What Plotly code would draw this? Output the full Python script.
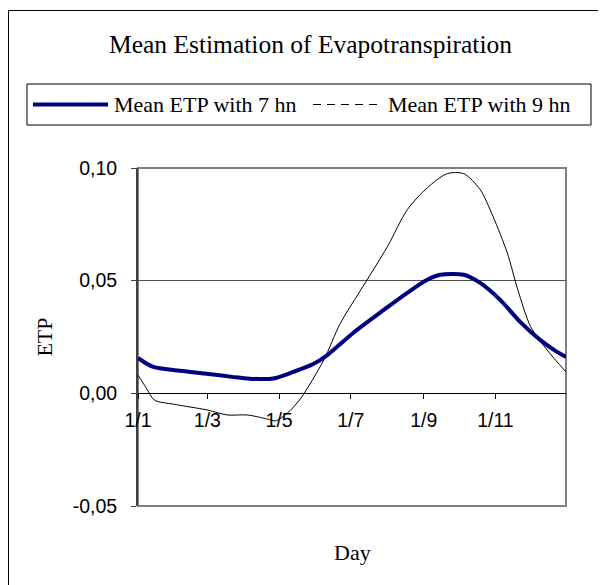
import plotly.graph_objects as go

# ---- data ----
dates_7hn = ["2023-01-01", "2023-01-14", "2023-02-08", "2023-03-02", "2023-03-22",
             "2023-04-06", "2023-04-26", "2023-05-13", "2023-05-30", "2023-06-11",
             "2023-07-03", "2023-07-29", "2023-08-18", "2023-09-04", "2023-09-15",
             "2023-10-05", "2023-10-19", "2023-11-05", "2023-11-22", "2023-12-09",
             "2023-12-21", "2023-12-31"]
etp_7hn = [0.0157, 0.0117, 0.0099, 0.0086, 0.0073,
           0.0065, 0.0066, 0.0095, 0.0130, 0.0170,
           0.0268, 0.0370, 0.0446, 0.0504, 0.0526,
           0.0526, 0.0490, 0.0415, 0.0317, 0.0237,
           0.0192, 0.0161]

dates_9hn = ["2023-01-01", "2023-01-08", "2023-01-15", "2023-01-31", "2023-03-01",
             "2023-03-18", "2023-04-04", "2023-04-21", "2023-04-28", "2023-05-08",
             "2023-05-19", "2023-06-08", "2023-06-22", "2023-07-09", "2023-08-01",
             "2023-08-18", "2023-09-04", "2023-09-21", "2023-10-05", "2023-10-19",
             "2023-10-30", "2023-11-11", "2023-11-20", "2023-12-01", "2023-12-15",
             "2023-12-31"]
etp_9hn = [0.0081, 0.0024, -0.0030, -0.0048, -0.0074,
           -0.0096, -0.0096, -0.0114, -0.0122, -0.0088,
           -0.0025, 0.0148, 0.0310, 0.0455, 0.0650,
           0.0815, 0.0912, 0.0975, 0.0975, 0.0904,
           0.0784, 0.0624, 0.0460, 0.0295, 0.0192,
           0.0095]

x_tick_vals = ["2023-01-01", "2023-03-01", "2023-05-01", "2023-07-01", "2023-09-01", "2023-11-01"]
x_tick_text = ["1/1", "1/3", "1/5", "1/7", "1/9", "1/11"]
y_tick_vals = [-0.05, 0.0, 0.05, 0.10]
y_tick_text = ["-0,05", "0,00", "0,05", "0,10"]

name_7 = "Mean ETP with 7 hn"
name_9 = "Mean ETP with 9 hn"
title_text = "Mean Estimation of Evapotranspiration"

# ---- layout geometry (page pixels; the page body adds an 8px offset) ----
OFF = 8
W, H = 606 - OFF, 585 - OFF
L, R, T, B = 138 - OFF, 566 - OFF, 168 - OFF, 506 - OFF


def px_x(p):
    return (p - OFF - L) / (R - L)


def px_y(p):
    return (B - (p - OFF)) / (B - T)


SERIF = "Liberation Serif"
SANS = "Liberation Sans"

fig = go.Figure()
fig.add_trace(go.Scatter(x=dates_9hn, y=etp_9hn, mode="lines", name=name_9,
                         line=dict(color="black", width=1, shape="spline", smoothing=0.8),
                         showlegend=False))
fig.add_trace(go.Scatter(x=dates_7hn, y=etp_7hn, mode="lines", name=name_7,
                         line=dict(color="#000080", width=4, shape="spline", smoothing=0.8),
                         showlegend=False))

shapes = [
    # plot-area border
    dict(type="rect", xref="paper", yref="paper", x0=0, x1=1, y0=0, y1=1,
         line=dict(color="#808080", width=2), layer="below"),
    # chart-area border (extends past the right/bottom edges)
    dict(type="rect", xref="paper", yref="paper", x0=px_x(8.5), x1=px_x(700),
         y0=px_y(700), y1=px_y(10.5), line=dict(color="black", width=1), layer="below"),
    # legend box
    dict(type="rect", xref="paper", yref="paper", x0=px_x(27), x1=px_x(591),
         y0=px_y(125), y1=px_y(84), line=dict(color="black", width=1), layer="above"),
    # legend samples
    dict(type="line", xref="paper", yref="paper", x0=px_x(33), x1=px_x(108),
         y0=px_y(104.5), y1=px_y(104.5), line=dict(color="#000080", width=4)),
    dict(type="line", xref="paper", yref="paper", x0=px_x(313), x1=px_x(382),
         y0=px_y(104.5), y1=px_y(104.5), line=dict(color="black", width=1, dash="8px,6px")),
]

annotations = [
    dict(text=name_7, xref="paper", yref="paper", x=px_x(112), y=px_y(104.5),
         xanchor="left", yanchor="middle", showarrow=False,
         font=dict(family=SERIF, size=22, color="black")),
    dict(text=name_9, xref="paper", yref="paper", x=px_x(386), y=px_y(104.5),
         xanchor="left", yanchor="middle", showarrow=False,
         font=dict(family=SERIF, size=22, color="black")),
    dict(text="Day", xref="paper", yref="paper", x=0.5, y=px_y(552),
         xanchor="center", yanchor="middle", showarrow=False,
         font=dict(family=SERIF, size=22, color="black")),
]

fig.update_layout(
    width=W, height=H,
    margin=dict(l=L, r=W - R, t=T, b=H - B, pad=0),
    paper_bgcolor="white", plot_bgcolor="white",
    title=dict(text=title_text, x=(310.5 - OFF) / W, xref="container", xanchor="center",
               y=1 - (44 - OFF) / H, yref="container", yanchor="middle",
               font=dict(family=SERIF, size=25.5, color="black")),
    shapes=shapes, annotations=annotations,
    showlegend=False,
    xaxis=dict(type="date", range=["2023-01-01", "2023-12-31"],
               tickvals=x_tick_vals, ticktext=x_tick_text,
               anchor="free", position=1 / 3,
               showline=True, linecolor="black", linewidth=1,
               ticks="outside", ticklen=5, tickcolor="black", tickwidth=1,
               ticklabelstandoff=4,
               showgrid=False, zeroline=False,
               tickfont=dict(family=SANS, size=19.5, color="black")),
    yaxis=dict(range=[-0.05, 0.10], tickvals=y_tick_vals, ticktext=y_tick_text,
               showline=True, linecolor="#404040", linewidth=2,
               ticks="outside", ticklen=5, tickcolor="#404040", tickwidth=1,
               ticklabelstandoff=10,
               showgrid=True, gridcolor="#505050", gridwidth=1,
               zeroline=False,
               tickfont=dict(family=SANS, size=19.5, color="black"),
               title=dict(text="ETP", standoff=14,
                          font=dict(family=SERIF, size=22, color="black"))),
)

fig.write_html("out.html")
